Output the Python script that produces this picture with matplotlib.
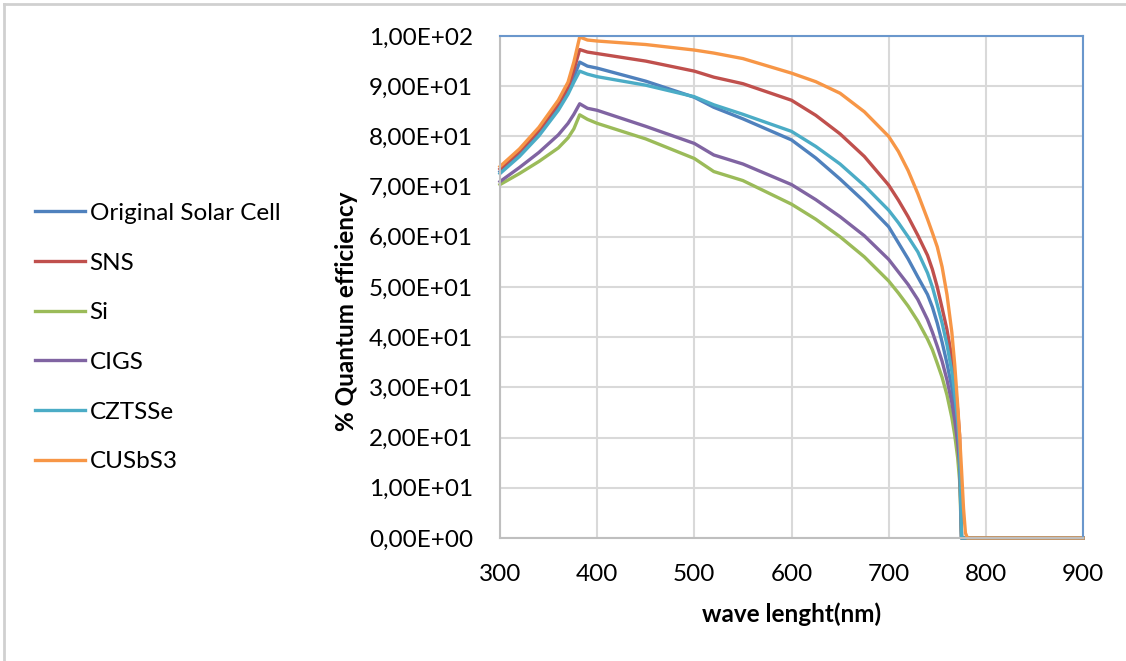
import numpy as np
import matplotlib.pyplot as plt
from matplotlib.lines import Line2D
from matplotlib.ticker import FuncFormatter

plt.rcParams['font.family'] = ['Lato', 'DejaVu Sans']

# wavelength grid (nm)
wave = [300, 320, 340, 360, 370, 376, 382, 390, 400, 450, 500, 520, 550, 600,
        625, 650, 675, 700, 710, 720, 730, 740, 745, 750, 755, 760, 765, 768,
        771, 773, 775, 777, 779, 781, 900]

original = [73.0, 76.5, 80.6, 85.8, 89.0, 91.8, 94.8, 94.0, 93.6, 91.0, 87.8, 85.8, 83.5, 79.3,
            75.7, 71.5, 67.0, 62.0, 58.8, 55.6, 52.0, 48.5, 46.0, 42.8, 39.0, 34.8, 30.0, 26.0,
            21.0, 16.5, 0, 0, 0, 0, 0]
sns_qe = [73.5, 77.0, 81.2, 86.5, 89.8, 93.2, 97.3, 96.8, 96.5, 95.0, 93.0, 91.8, 90.5, 87.2,
          84.2, 80.5, 76.0, 70.3, 67.3, 64.0, 60.3, 56.3, 53.5, 50.0, 45.8, 41.5, 36.0, 31.5,
          25.5, 20.5, 0, 0, 0, 0, 0]
si_qe = [70.4, 72.6, 75.0, 77.7, 79.7, 81.5, 84.3, 83.4, 82.6, 79.5, 75.6, 73.0, 71.2, 66.5,
         63.5, 60.0, 56.0, 51.2, 48.8, 46.2, 43.2, 39.6, 37.5, 34.8, 32.0, 28.5, 24.0, 20.5,
         16.0, 11.5, 0, 0, 0, 0, 0]
cigs_qe = [71.0, 73.8, 76.8, 80.3, 82.6, 84.4, 86.5, 85.6, 85.2, 82.0, 78.6, 76.3, 74.5, 70.4,
           67.4, 64.0, 60.2, 55.5, 53.0, 50.5, 47.5, 43.5, 41.0, 38.2, 35.2, 31.5, 27.0, 23.5,
           19.0, 14.5, 0, 0, 0, 0, 0]
cztsse_qe = [72.6, 76.0, 80.1, 85.2, 88.4, 90.8, 93.0, 92.4, 91.9, 90.2, 87.9, 86.3, 84.4, 81.0,
             78.0, 74.5, 70.2, 65.3, 62.8, 60.0, 57.0, 52.8, 50.0, 46.5, 42.8, 38.5, 33.2, 28.8,
             23.3, 18.0, 0, 0, 0, 0, 0]
cusbs3_qe = [74.0, 77.5, 81.8, 87.2, 90.8, 94.8, 99.8, 99.2, 99.0, 98.3, 97.2, 96.6, 95.5, 92.6,
             90.9, 88.6, 84.9, 80.0, 77.0, 73.2, 68.6, 63.5, 60.8, 58.0, 54.0, 48.5, 41.0, 34.5,
             26.5, 20.5, 13.5, 6.0, 1.0, 0, 0]

labels = ['Original Solar Cell', 'SNS', 'Si', 'CIGS', 'CZTSSe', 'CUSbS3']
series = [original, sns_qe, si_qe, cigs_qe, cztsse_qe, cusbs3_qe]
colors = ['#4F81BD', '#C0504D', '#9BBB59', '#8064A2', '#4BACC6', '#F79646']

fs = 17.5

fig = plt.figure(figsize=(11.26, 6.61), dpi=100)
ax = fig.add_axes([500/1126, 1 - 538/661, 583/1126, 502/661])

for y, c, lab in zip(series, colors, labels):
    ax.plot(wave, y, color=c, lw=2.4, label=lab, solid_joinstyle='round', clip_on=False)

ax.set_xlim(300, 900)
ax.set_ylim(0, 100)
ax.set_xticks(np.arange(300, 901, 100))
ax.set_yticks(np.arange(0, 101, 10))
ax.yaxis.set_major_formatter(FuncFormatter(
    lambda v, p: ('%.2E' % v).replace('.', ',')))
ax.grid(True, color='#d9d9d9', lw=1.5)
ax.set_axisbelow(True)
ax.tick_params(length=0, labelsize=fs, colors='black')
ax.tick_params(axis='x', pad=18.5)
ax.tick_params(axis='y', pad=19.5)

for s in ['left', 'bottom']:
    ax.spines[s].set_color('#bfbfbf')
    ax.spines[s].set_linewidth(1.5)
for s in ['top', 'right']:
    ax.spines[s].set_color('#6a97cc')
    ax.spines[s].set_linewidth(1.5)

ax.set_ylabel('% Quantum efficiency', fontsize=fs, fontweight='bold')
ax.yaxis.set_label_coords(-0.243, 0.452)
ax.set_xlabel('wave lenght(nm)', fontsize=fs, fontweight='bold')
ax.xaxis.set_label_coords(0.5, -0.128)

handles = [Line2D([], [], color=c, lw=2.4) for c in colors]
fig.legend(handles, labels, loc='upper left', bbox_to_anchor=(13/1126, 1 - 181/661),
           frameon=False, fontsize=fs, handlelength=2.05, handletextpad=0.2,
           labelspacing=1.18)

# light frame lines of the original chart area
fig.add_artist(Line2D([4/1126, 1], [1 - 4/661, 1 - 4/661], color='#d0d0d0', lw=2,
                      transform=fig.transFigure))
fig.add_artist(Line2D([4/1126, 4/1126], [0, 1 - 4/661], color='#d0d0d0', lw=2,
                      transform=fig.transFigure))

fig.savefig('out.png', dpi=100)
